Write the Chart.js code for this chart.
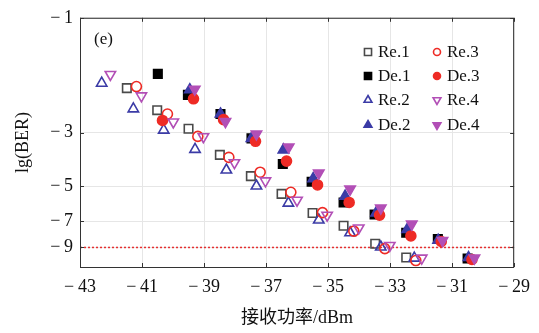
<!DOCTYPE html>
<html>
<head>
<meta charset="utf-8">
<script src="https://cdn.jsdelivr.net/npm/chart.js@4.4.1/dist/chart.umd.min.js"></script>
<style>
  html, body { margin: 0; padding: 0; background: #fff; }
  #wrap { width: 539px; height: 333px; }
</style>
</head>
<body>
<div id="wrap"><canvas id="berChart" width="539" height="333"></canvas></div>
<script>
// 接收功率 (dBm) and lg(BER), one pair of arrays per series
var re1X = [-41.49, -40.51, -39.50, -38.49, -37.49, -36.50, -35.50, -34.50, -33.48, -32.48];
var re1Y = [-1.96, -2.42, -2.89, -3.71, -4.55, -5.39, -6.47, -7.31, -8.69, -9.91];
var de1X = [-40.49, -39.52, -38.47, -37.47, -36.46, -35.53, -34.50, -33.50, -32.48, -31.46, -30.50];
var de1Y = [-1.71, -2.09, -2.51, -3.17, -4.05, -4.80, -5.85, -6.57, -7.82, -8.30, -10.0];
var re2X = [-42.30, -41.28, -40.30, -39.29, -38.28, -37.31, -36.28, -35.30, -34.29, -33.30, -32.22];
var re2Y = [-1.87, -2.39, -2.93, -3.52, -4.29, -5.00, -5.89, -6.92, -7.82, -8.96, -9.97];
var de2X = [-39.46, -38.47, -37.47, -36.44, -35.48, -34.45, -33.45, -32.45, -31.45, -30.47];
var de2Y = [-1.99, -2.51, -3.17, -3.54, -4.66, -5.51, -6.47, -7.58, -8.40, -9.91];
var re3X = [-41.18, -40.18, -39.20, -38.20, -37.19, -36.20, -35.18, -34.17, -33.17, -32.17];
var re3Y = [-1.93, -2.51, -3.11, -3.80, -4.38, -5.31, -6.45, -7.70, -9.10, -10.2];
var de3X = [-40.34, -39.34, -38.37, -37.34, -36.34, -35.34, -34.32, -33.34, -32.33, -31.35, -30.36];
var de3Y = [-2.67, -2.17, -2.65, -3.26, -3.94, -4.95, -5.85, -6.61, -8.06, -8.50, -10.1];
var re4X = [-42.02, -41.02, -39.99, -39.02, -38.02, -37.02, -36.00, -35.03, -34.01, -33.01, -31.98];
var re4Y = [-1.72, -2.11, -2.71, -3.12, -4.00, -4.76, -5.73, -6.61, -7.47, -8.83, -9.97];
var de4X = [-39.30, -38.31, -37.31, -36.27, -35.30, -34.29, -33.30, -32.30, -31.31, -30.28];
var de4Y = [-1.98, -2.70, -3.04, -3.44, -4.42, -5.15, -6.18, -7.20, -8.43, -9.97];

var thresholdX = [-43, -29];
var thresholdY = [-9, -9];

var xTicks = [-43, -41, -39, -37, -35, -33, -31, -29];
var yTicks = [-1, -3, -5, -7, -9];
var yBottom = -10.85;

var SERIF = '"Liberation Serif", "DejaVu Serif", "Noto Sans CJK SC", serif';
var MINUS = '\u2212\u2009';

// y axis is lg(-lg BER), drawn reversed
function ty(v) { return Math.log10(-v); }
function pts(xs, ys) {
  var out = [];
  for (var i = 0; i < xs.length; i++) out.push({x: xs[i], y: ty(ys[i])});
  return out;
}
function fmt(v) { return v < 0 ? MINUS + Math.abs(v) : String(v); }

var GRAY = '#4a4a4a', BLACK = '#000000', BLUE = '#3b3ba6', RED = '#ee2b25', MAG = '#b24fb6';

var series = [
  {label: 'Re.1', xs: re1X, ys: re1Y, color: GRAY,  style: 'rect',     rot: 0,   fill: false, r: 6},
  {label: 'De.1', xs: de1X, ys: de1Y, color: BLACK, style: 'rect',     rot: 0,   fill: true,  r: 6},
  {label: 'Re.2', xs: re2X, ys: re2Y, color: BLUE,  style: 'triangle', rot: 0,   fill: false, r: 6},
  {label: 'De.2', xs: de2X, ys: de2Y, color: BLUE,  style: 'triangle', rot: 0,   fill: true,  r: 6},
  {label: 'Re.3', xs: re3X, ys: re3Y, color: RED,   style: 'circle',   rot: 0,   fill: false, r: 5},
  {label: 'De.3', xs: de3X, ys: de3Y, color: RED,   style: 'circle',   rot: 0,   fill: true,  r: 5},
  {label: 'Re.4', xs: re4X, ys: re4Y, color: MAG,   style: 'triangle', rot: 180, fill: false, r: 6},
  {label: 'De.4', xs: de4X, ys: de4Y, color: MAG,   style: 'triangle', rot: 180, fill: true,  r: 6}
];

var datasets = series.map(function(s, i) {
  return {
    label: s.label,
    data: pts(s.xs, s.ys),
    pointStyle: s.style,
    pointRotation: s.rot,
    pointRadius: s.r,
    pointHoverRadius: s.r,
    pointBorderWidth: 1.6,
    borderColor: s.color,
    backgroundColor: s.fill ? s.color : 'rgba(0,0,0,0)',
    order: series.length - i
  };
});
datasets.push({
  label: 'threshold',
  data: pts(thresholdX, thresholdY),
  showLine: true,
  pointRadius: 0,
  borderColor: '#e53030',
  borderWidth: 1.5,
  borderDash: [2, 2],
  order: 100
});

// frame, inward tick marks, panel tag and the two-column legend
var decor = {
  id: 'decor',
  afterDraw: function(chart) {
    var ctx = chart.ctx, a = chart.chartArea;
    var xs = chart.scales.x, ys = chart.scales.y;
    ctx.save();
    ctx.strokeStyle = '#333';
    ctx.lineWidth = 1;
    ctx.strokeRect(a.left + 0.5, a.top + 0.5, a.right - a.left - 1, a.bottom - a.top);
    ctx.beginPath();
    xTicks.forEach(function(v) {
      var px = Math.round(xs.getPixelForValue(v)) + 0.5;
      ctx.moveTo(px, a.bottom); ctx.lineTo(px, a.bottom - 4);
      ctx.moveTo(px, a.top); ctx.lineTo(px, a.top + 4);
    });
    yTicks.forEach(function(v) {
      var py = Math.round(ys.getPixelForValue(ty(v))) + 0.5;
      ctx.moveTo(a.left, py); ctx.lineTo(a.left + 4, py);
      ctx.moveTo(a.right, py); ctx.lineTo(a.right - 4, py);
    });
    ctx.stroke();

    ctx.fillStyle = '#111';
    ctx.font = '17px ' + SERIF;
    ctx.textBaseline = 'middle';
    ctx.textAlign = 'left';
    ctx.fillText('(e)', a.left + 14, a.top + 22);

    // legend: Re.1/De.1/Re.2/De.2 left column, Re.3/De.3/Re.4/De.4 right column
    var colX = [368, 437], rowY = [52, 76, 100, 125];
    ctx.font = '17px ' + SERIF;
    series.forEach(function(s, i) {
      var col = i < 4 ? 0 : 1;
      var row = i < 4 ? i : i - 4;
      var mx = colX[col], my = rowY[row];
      ctx.fillStyle = s.fill ? s.color : 'rgba(0,0,0,0)';
      ctx.strokeStyle = s.color;
      ctx.lineWidth = 1.6;
      Chart.helpers.drawPoint(ctx, {pointStyle: s.style, radius: s.style === 'rect' ? 5 : s.r - 1.5, rotation: s.rot, borderWidth: 1.6}, mx, my);
      ctx.fillStyle = '#111';
      ctx.fillText(s.label, mx + 10, my + 1);
    });
    ctx.restore();
  }
};

new Chart(document.getElementById('berChart'), {
  type: 'scatter',
  data: { datasets: datasets },
  options: {
    responsive: false,
    animation: false,
    events: [],
    layout: { padding: { top: 9, right: 17, left: 0, bottom: 0 } },
    plugins: { legend: { display: false }, tooltip: { enabled: false } },
    scales: {
      x: {
        type: 'linear',
        min: -43, max: -29,
        afterBuildTicks: function(scale) {
          scale.ticks = xTicks.map(function(v) { return {value: v}; });
        },
        afterFit: function(scale) { scale.height = 66; },
        grid: { color: '#e6e6e6', drawTicks: false },
        border: { display: false },
        ticks: {
          padding: 9,
          color: '#111',
          font: { family: SERIF, size: 18 },
          callback: function(v) { return fmt(v); }
        },
        title: {
          display: true,
          text: '接收功率/dBm',
          color: '#111',
          font: { family: SERIF, size: 18 },
          padding: { top: 0, bottom: 4 }
        }
      },
      y: {
        type: 'linear',
        reverse: true,
        min: 0, max: ty(yBottom),
        afterBuildTicks: function(scale) {
          scale.ticks = yTicks.map(function(v) { return {value: ty(v)}; });
        },
        afterFit: function(scale) { scale.width = 80; },
        grid: { color: '#e6e6e6', drawTicks: false },
        border: { display: false },
        ticks: {
          padding: 7,
          color: '#111',
          font: { family: SERIF, size: 18 },
          callback: function(v) { return fmt(-Math.round(Math.pow(10, v))); }
        },
        title: {
          display: true,
          text: 'lg(BER)',
          color: '#111',
          font: { family: SERIF, size: 18 },
          padding: { top: 12, bottom: 0 }
        }
      }
    }
  },
  plugins: [decor]
});
</script>
</body>
</html>
